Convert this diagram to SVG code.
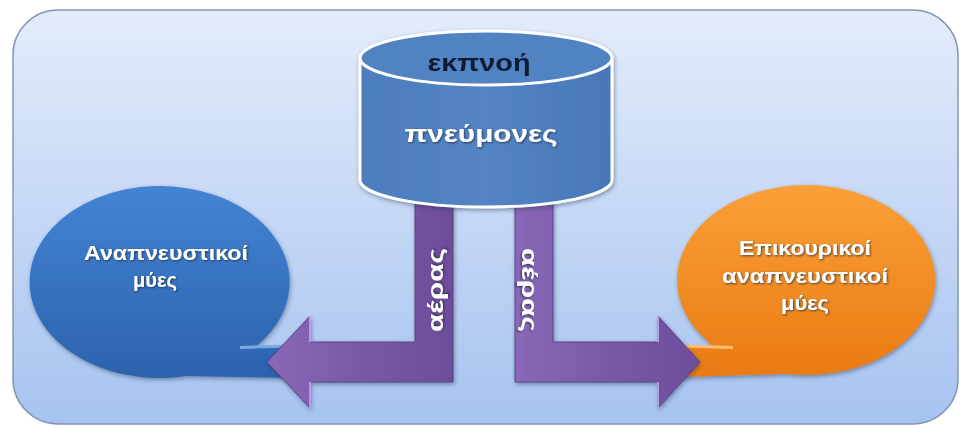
<svg xmlns="http://www.w3.org/2000/svg" width="971" height="429" viewBox="0 0 971 429">
<defs>
  <linearGradient id="bg" x1="0" y1="0" x2="0" y2="1">
    <stop offset="0" stop-color="#e4ecfb"/>
    <stop offset="1" stop-color="#a6c3f0"/>
  </linearGradient>
  <linearGradient id="blueG" x1="0" y1="0" x2="0" y2="1">
    <stop offset="0" stop-color="#4384d3"/>
    <stop offset="1" stop-color="#2c62ad"/>
  </linearGradient>
  <linearGradient id="orangeG" x1="0" y1="0" x2="0" y2="1">
    <stop offset="0" stop-color="#fba038"/>
    <stop offset="1" stop-color="#e97a12"/>
  </linearGradient>
  <linearGradient id="purpV" x1="0" y1="0" x2="1" y2="0">
    <stop offset="0" stop-color="#8a68b8"/>
    <stop offset="0.5" stop-color="#7a58a8"/>
    <stop offset="1" stop-color="#6d4d9a"/>
  </linearGradient>
  <linearGradient id="cyl" x1="0" y1="0" x2="1" y2="0">
    <stop offset="0" stop-color="#4d7dbd"/>
    <stop offset="0.5" stop-color="#5384c4"/>
    <stop offset="1" stop-color="#4877b8"/>
  </linearGradient>
  <filter id="sh" x="-20%" y="-20%" width="140%" height="140%">
    <feDropShadow dx="1" dy="2" stdDeviation="2" flood-color="#203050" flood-opacity="0.45"/>
  </filter>
  <filter id="tsh" x="-10%" y="-30%" width="120%" height="160%">
    <feDropShadow dx="1" dy="1" stdDeviation="0.8" flood-color="#1a2a40" flood-opacity="0.8"/>
  </filter>
</defs>
<style>
  .wt{font-family:"Liberation Sans",Arial,sans-serif;font-weight:bold;fill:#ffffff;text-anchor:middle;filter:url(#tsh)}
  .arrow{fill:url(#purpV);stroke:#5d4288;stroke-width:1;filter:url(#sh)}
</style>
<rect x="13" y="10" width="945" height="414" rx="45" fill="url(#bg)" stroke="#8797b2" stroke-width="1.5"/>

<g id="node-left">
  <path d="M254,348 A130,96 0 1 0 186,376 L292,378 L292,346 Z" fill="url(#blueG)" filter="url(#sh)"/>
  <path d="M240,347.5 L292,346" stroke="#7aaae4" stroke-width="3" fill="none"/>
  <text class="wt" font-size="21" x="166" y="260" textLength="164" lengthAdjust="spacingAndGlyphs">Αναπνευστικοί</text>
  <text class="wt" font-size="21" x="155" y="287" textLength="44" lengthAdjust="spacingAndGlyphs">μύες</text>
</g>

<g id="node-right">
  <path d="M716,348 A129,95 0 1 1 787,374 L680,377 L680,346 Z" fill="url(#orangeG)" filter="url(#sh)"/>
  <path d="M680,346 L733,347.5" stroke="#fdbd72" stroke-width="3" fill="none"/>
  <text class="wt" font-size="21" x="805" y="255" textLength="132" lengthAdjust="spacingAndGlyphs">Επικουρικοί</text>
  <text class="wt" font-size="21" x="805" y="283" textLength="166" lengthAdjust="spacingAndGlyphs">αναπνευστικοί</text>
  <text class="wt" font-size="21" x="805" y="310" textLength="48" lengthAdjust="spacingAndGlyphs">μύες</text>
</g>

<g id="connectors">
  <path class="arrow" d="M415,195 L453,195 L453,382 L310,382 L310,408 L267,362 L310,316 L310,342 L415,342 Z"/>
  <path class="arrow" d="M515,195 L553,195 L553,342 L658,342 L658,316 L700,362 L658,408 L658,382 L515,382 Z"/>
  <path d="M310,316 L310,342 M310,382 L310,408" stroke="#b59ee0" stroke-width="2" fill="none"/>
  <path d="M658,316 L658,342 M658,382 L658,408" stroke="#b59ee0" stroke-width="2" fill="none"/>
  <text class="wt" font-size="22" transform="translate(443,290) rotate(-90)" textLength="84" lengthAdjust="spacingAndGlyphs">αέρας</text>
  <text class="wt" font-size="22" transform="translate(522,290) rotate(90)" textLength="84" lengthAdjust="spacingAndGlyphs">αέρας</text>
</g>

<g id="node-lungs" filter="url(#sh)">
  <path d="M360,58 L360,180 A126,27 0 0 0 612,180 L612,58 Z" fill="url(#cyl)" stroke="#ffffff" stroke-width="3"/>
  <ellipse cx="486" cy="58" rx="126" ry="27" fill="#5182c2" stroke="#ffffff" stroke-width="3"/>
  <text font-family="'Liberation Sans',Arial,sans-serif" font-weight="bold" font-size="23" fill="#0d1a30" text-anchor="middle" x="479" y="71" textLength="103" lengthAdjust="spacingAndGlyphs">εκπνοή</text>
  <text class="wt" font-size="24" x="481" y="142" textLength="153" lengthAdjust="spacingAndGlyphs">πνεύμονες</text>
</g>
</svg>
